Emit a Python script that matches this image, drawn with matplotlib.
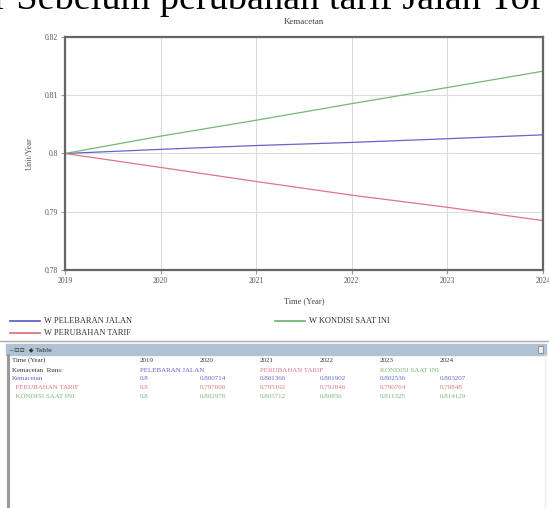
import matplotlib
matplotlib.use("Agg")
import matplotlib.pyplot as plt
from matplotlib.patches import Rectangle
from matplotlib.lines import Line2D

years = [2019, 2020, 2021, 2022, 2023, 2024]
pelebaran = [0.8, 0.800714, 0.801366, 0.801902, 0.802536, 0.803207]
perubahan = [0.8, 0.797608, 0.795192, 0.792846, 0.790764, 0.788480]
kondisi = [0.8, 0.802976, 0.805712, 0.808560, 0.811325, 0.814129]
run_names = ["PELEBARAN JALAN", "PERUBAHAN TARIF", "KONDISI SAAT INI"]
yticks = [0.78, 0.79, 0.8, 0.81, 0.82]

c_blue = "#6464c8"
c_red = "#e07485"
c_green = "#74b874"
serif = ["Liberation Serif", "DejaVu Serif"]

W, H = 549, 508
fig = plt.figure(figsize=(W / 100, H / 100), dpi=100)


def fx(px):
    return px / W


def fy(py):
    return 1 - py / H


# cropped caption from the document above the chart
fig.text(fx(-6), fy(9), "r Sebelum perubahan tarif Jalan Tol", family=serif,
         fontsize=27.5, color="black", ha="left", va="baseline")

ax = fig.add_axes([fx(65), fy(270), fx(543 - 65), fy(37) - fy(270)])
ax.plot(years, pelebaran, color=c_blue, lw=0.9)
ax.plot(years, perubahan, color=c_red, lw=0.9)
ax.plot(years, kondisi, color=c_green, lw=0.9)
ax.set_xlim(2019, 2024)
ax.set_ylim(0.78, 0.82)
ax.set_xticks(years)
ax.set_xticklabels([str(y) for y in years])
ax.set_yticks(yticks)
ax.set_yticklabels(["0.8" if v == 0.8 else f"{v:.2f}" for v in yticks])
ax.grid(True, color="#dcdcdc", lw=0.8)
ax.tick_params(length=3, color="#999999", labelsize=5.5, labelcolor="#555555", pad=2)
for lab in ax.get_xticklabels() + ax.get_yticklabels():
    lab.set_family(serif)
for s in ax.spines.values():
    s.set_color("#666666")
    s.set_linewidth(1.6)
ax.set_title("Kemacetan", family=serif, fontsize=6.5, color="#444444", pad=9)
ax.set_xlabel("Time (Year)", family=serif, fontsize=6, color="#444444", labelpad=9)
ax.set_ylabel("Unit/Year", family=serif, fontsize=6, color="#555555", labelpad=8)

# legend
leg = [(10, 321, c_blue, "W PELEBARAN JALAN"),
       (275, 321, c_green, "W KONDISI SAAT INI"),
       (10, 333, c_red, "W PERUBAHAN TARIF")]
for x0, y0, col, txt in leg:
    fig.add_artist(Line2D([fx(x0), fx(x0 + 30)], [fy(y0), fy(y0)], color=col, lw=1.3))
    fig.text(fx(x0 + 34), fy(y0), txt, family=serif, fontsize=6, color="#333333", va="center")

# table panel
fig.add_artist(Line2D([0, 1], [fy(341), fy(341)], color="#aaaaaa", lw=1))
fig.add_artist(Rectangle((fx(6), fy(355)), fx(540), fy(344) - fy(355), color="#b0c2d4"))
fig.text(fx(9), fy(349.5), "~\u22a1\u22a1  \u25c6 Table", family=["DejaVu Sans"], fontsize=4.5,
         color="#333333", va="center")
fig.add_artist(Rectangle((fx(538), fy(353)), fx(5), fy(346) - fy(353), fc="#eeeeee", ec="#777777", lw=0.5))
fig.add_artist(Line2D([fx(8), fx(8)], [fy(355), 0], color="#999999", lw=2.2))
fig.add_artist(Line2D([fx(545), fx(545)], [fy(355), 0], color="#eeeeee", lw=1))

cols = [140, 200, 260, 320, 380, 440]
ts = dict(family=serif, fontsize=5, va="center")
fig.text(fx(12), fy(360), "Time (Year)", color="#333333", **ts)
for x, y in zip(cols, years):
    fig.text(fx(x), fy(360), str(y), color="#333333", **ts)
fig.text(fx(12), fy(370), "Kemacetan  Runs:", color="#333333", **ts)
for x, name, col in zip([140, 260, 380], run_names, [c_blue, c_red, c_green]):
    fig.text(fx(x), fy(370), name, color=col, **ts)

rows = [("Kemacetan", pelebaran, c_blue),
        ("  PERUBAHAN TARIF", perubahan, c_red),
        ("  KONDISI SAAT INI", kondisi, c_green)]
for i, (name, vals, col) in enumerate(rows):
    yy = 379 + 8.5 * i
    fig.text(fx(12), fy(yy), name, color=col, **ts)
    for x, v in zip(cols, vals):
        s = "0.8" if v == 0.8 else f"{v:.6f}".rstrip("0")
        fig.text(fx(x), fy(yy), s, color=col, **ts)

fig.savefig("out.png", dpi=100)
